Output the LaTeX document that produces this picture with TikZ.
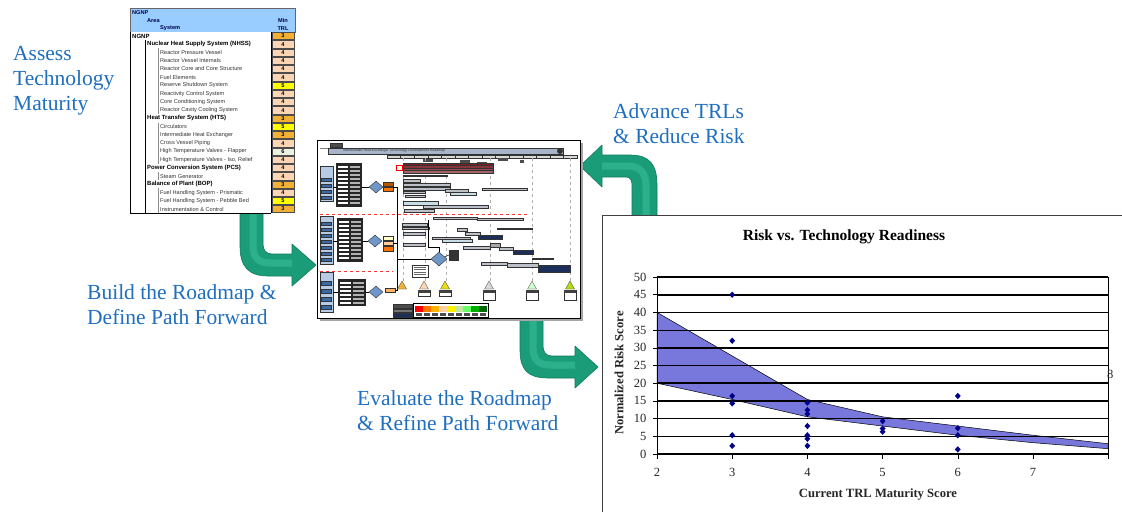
\documentclass[tikz,border=0pt]{standalone}
\usepackage{fontspec}
\setmainfont{Liberation Serif}
\newfontfamily\tabfont{Liberation Sans}
\usetikzlibrary{shapes.geometric}
\definecolor{stepblue}{HTML}{1F6EBF}
\definecolor{arrowgreen}{HTML}{1A9C78}
\definecolor{arrowedge}{HTML}{0F7A5C}
\definecolor{arrowlight}{HTML}{3CC29E}
\definecolor{headblue}{HTML}{99CCFF}
\definecolor{trlthree}{HTML}{F2B134}
\definecolor{trlfour}{HTML}{FCD5B4}
\definecolor{trlfive}{HTML}{FFFF00}
\definecolor{trlsix}{HTML}{EBF1DE}
\definecolor{bandblue}{HTML}{7878DC}
\definecolor{riskblue}{HTML}{00008B}
\definecolor{barred}{HTML}{7A1F24}
\definecolor{bargrey}{HTML}{BCC0C8}
\definecolor{barlight}{HTML}{C8DEE6}
\definecolor{bardark}{HTML}{1B2F5A}
\definecolor{zoneblue}{HTML}{B7CCE4}
\definecolor{boxblue}{HTML}{3A6AA8}
\definecolor{diamondblue}{HTML}{6E96C8}
\definecolor{titlebar}{HTML}{A8B4C8}

\tikzset{
	steptext/.style={text=stepblue,font=\fontsize{21.5}{25}\selectfont,align=left,anchor=north west,inner sep=0pt},
	greenarrow/.style={fill=arrowgreen,draw=arrowedge,line width=0.6pt,line join=round},
	arrowshine/.style={draw=arrowlight,line width=7pt,opacity=0.55,line cap=butt},
	rowtext/.style={font=\tabfont\fontsize{5.6}{6}\selectfont,anchor=west,inner sep=0pt,text=black!80},
	hdtext/.style={font=\tabfont\bfseries\fontsize{5.6}{6}\selectfont,anchor=west,inner sep=0pt,text=black!70!blue},
	trlcell/.style={draw=black!70,line width=0.3pt,minimum width=22pt,minimum height=7.2pt,inner sep=0pt,font=\tabfont\bfseries\fontsize{5.6}{6}\selectfont},
	rmbar/.style={draw=black!80,line width=0.25pt},
	rmdiamond/.style={diamond,draw=black!80,fill=diamondblue,line width=0.4pt,inner sep=0pt,minimum width=14pt,minimum height=12pt},
	riskpt/.style={diamond,fill=riskblue,inner sep=0pt,minimum width=6pt,minimum height=6.5pt},
	ticklabel/.style={font=\fontsize{12.5}{13}\selectfont,text=black!85},
	axislabel/.style={font=\bfseries\fontsize{12.6}{13}\selectfont,text=black!85},
	gridthick/.style={line width=1.6pt},
	gridthin/.style={line width=0.7pt},
}

\begin{document}
\begin{tikzpicture}[x=1pt,y=-1pt]
	\useasboundingbox (0,0) rectangle (1122,512);
	% bent arrows
	\path[greenarrow] (240,212) -- (240,246) .. controls (240,266) and (248,276) .. (268,276) -- (292,276) -- (292,286) -- (316,265) -- (292,244) -- (292,254) -- (272,254) .. controls (266,254) and (263,250) .. (263,244) -- (263,212) -- cycle;
	\draw[arrowshine] (253,213) -- (253,246) .. controls (253,258) and (259,263) .. (270,263) -- (292,263);
	\path[greenarrow] (520,316) -- (520,350) .. controls (520,370) and (528,378) .. (548,378) -- (575,378) -- (575,388) -- (598,367) -- (575,346) -- (575,356) -- (552,356) .. controls (546,356) and (543,352) .. (543,346) -- (543,316) -- cycle;
	\draw[arrowshine] (533,317) -- (533,348) .. controls (533,360) and (539,365) .. (550,365) -- (575,365);
	\path[greenarrow] (657,217) -- (657,185) .. controls (657,165) and (650,155) .. (630,155) -- (602,155) -- (602,145) -- (580,166) -- (602,187) -- (602,177) -- (626,177) .. controls (630,177) and (632,180) .. (632,185) -- (632,217) -- cycle;
	\draw[arrowshine] (646,216) -- (646,186) .. controls (646,173) and (640,166) .. (628,166) -- (602,166);

	% TRL table
	\filldraw[fill=headblue,draw=black!60,line width=0.4pt] (130,8) rectangle (295,32);
	\node[hdtext] (hdngnp) at (132,13) {NGNP};
	\node[hdtext] (hdarea) at (147,20.5) {Area};
	\node[hdtext] (hdsys) at (160,28.5) {System};
	\node[hdtext,anchor=center] (hdmin) at (283,20.5) {Min};
	\node[hdtext,anchor=center] (hdtrl) at (283,28.5) {TRL};
	\fill[white] (130,32) rectangle (295,213);
	\draw[line width=0.6pt] (130,32) -- (130,213) -- (271,213);
	\draw[line width=0.5pt] (271,32) -- (271,213);
	\draw[line width=0.5pt] (145,40) -- (145,213);
	\foreach \rlvl/\rname/\rtrl/\rcol [count=\i from 0] in {
		0/NGNP/3/trlthree,
		1/Nuclear Heat Supply System (NHSS)/4/trlfour,
		2/Reactor Pressure Vessel/4/trlfour,
		2/Reactor Vessel Internals/4/trlfour,
		2/Reactor Core and Core Structure/4/trlfour,
		2/Fuel Elements/4/trlfour,
		2/Reserve Shutdown System/5/trlfive,
		2/Reactivity Control System/4/trlfour,
		2/Core Conditioning System/4/trlfour,
		2/Reactor Cavity Cooling System/4/trlfour,
		1/Heat Transfer System (HTS)/3/trlthree,
		2/Circulators/5/trlfive,
		2/Intermediate Heat Exchanger/3/trlthree,
		2/Cross Vessel Piping/4/trlfour,
		2/High Temperature Valves - Flapper/6/trlsix,
		{2/High Temperature Valves - Iso, Relief/4/trlfour},
		1/Power Conversion System (PCS)/4/trlfour,
		2/Steam Generator/4/trlfour,
		1/Balance of Plant (BOP)/3/trlthree,
		2/Fuel Handling System - Prismatic/4/trlfour,
		2/Fuel Handling System - Pebble Bed/5/trlfive,
		2/Instrumentation \& Control/3/trlthree}{
		\pgfmathsetmacro\ry{36+8.24*\i}
		\pgfmathsetmacro\rx{\rlvl==0 ? 132 : (\rlvl==1 ? 147 : 160)}
		\node[rowtext] (row\i) at (\rx,\ry) {\ifnum\rlvl<2\bfseries\fontsize{6}{6}\selectfont\color{black}\fi\rname};
		\node[trlcell,fill=\rcol] (trl\i) at (283,\ry) {\rtrl};
		\ifnum\rlvl=2
			\draw[black!45,line width=0.5pt] (158,{\ry-4.12}) -- (158,{\ry+4.12});
		\fi
	}

	% roadmap snapshot
	\begin{scope}[shift={(317,140)}]
		\fill[black!35] (3,3) rectangle (266,181);
		\draw[fill=white,line width=0.6pt] (0,0) rectangle (263,178);
		\draw[rmbar,fill=black!70] (13,3) rectangle (25,7);
		\draw[black!50,line width=0.8pt] (3,8) -- (11,8);
		\draw[rmbar,fill=titlebar] (11,8) rectangle (246,14);
		\node[font=\tabfont\fontsize{3.5}{4}\selectfont,anchor=west,inner sep=0pt,text=black!80] (rmtitle) at (26,11) {Intermediate Heat Exchanger Technology Development Roadmap};
		\fill[black!80] (243,11) circle (3);
		\foreach \k in {0,...,13}
			\draw[rmbar,fill=black!15] ({70+13.57*\k},15) rectangle ({83.57+13.57*\k},18);
		\foreach \a/\b/\c in {106/19/116,143/20/153,160/22/170,181/18/191,203/20/207}
			\fill[black!70] (\a,\b) rectangle (\c,{\b+2.5});
		% milestone guides
		\foreach \mx in {86,108,129,173,215,253}
			\draw[black!30,dashed,line width=0.3pt] (\mx,18) -- (\mx,142);
		% bars
		\foreach \b/\shade in {23/100,25.5/90,28/80,30.5/70}
			\draw[rmbar,fill=barred!\shade!white] (86,\b) rectangle (176,{\b+2.5});
		\draw[red,line width=0.4pt] (79,25) rectangle (85,30);
		\foreach \a/\b/\c/\d/\bcol in {
			86/35/130/36.5/bargrey, 86/39/103/42/bargrey, 86/43/133/46.5/bargrey,
			86/47/133/50/bargrey, 86/51/108/53.5/bargrey, 88/55/108/57.5/bargrey,
			128/49/151/52/bargrey, 133/52.5/159/55.5/barlight, 165/48/210/50.5/bargrey,
			86/61/121/65/barlight, 106/65.5/171/68.5/bargrey, 87/69/117/72/bargrey,
			116/77/160/79.5/bargrey, 160/78/206/80.5/bargrey, 85/83/110/86/bargrey,
			85/87/112/89.5/bargrey, 86/92/108/95.5/bargrey, 140/88/150/91.5/bargrey,
			148/92/163/95/bargrey, 161/95/185/99.5/bardark, 180/88/215/89.3/bargrey,
			115/97/153/99.5/bargrey, 125/99.5/155/102/barlight, 86/103/108/106/bargrey,
			146/106/173/109/bargrey, 173/103/183/107/black!35, 182/107/196/110/bargrey,
			196/110/216/114/bardark, 215/118.5/236/119.5/bargrey, 164/122/190/125/bargrey,
			190/123.5/221/127/bargrey, 221/125/253/132/bardark}
			\draw[rmbar,fill=\bcol] (\a,\b) rectangle (\c,\d);
		% zone separators
		\draw[red!80,dashed,line width=0.5pt] (3,74) -- (211,74);
		\draw[red!80,dashed,line width=0.5pt] (3,131) -- (76,131);
		% zone panels
		\draw[rmbar,fill=zoneblue] (3,26) rectangle (16,61);
		\foreach \yy in {40,46,52,58}
			\draw[rmbar,fill=boxblue] (4.5,{\yy-2}) rectangle (14.5,{\yy+1});
		\draw[rmbar,fill=zoneblue] (3,76) rectangle (16,124);
		\foreach \yy in {84,90,96,102,108,114,120}
			\draw[rmbar,fill=boxblue] (4.5,{\yy-2}) rectangle (14.5,{\yy+1.5});
		\draw[rmbar,fill=zoneblue] (3,132) rectangle (16,172);
		\foreach \yy in {143,151,159,167}
			\draw[rmbar,fill=boxblue] (4.5,{\yy-2}) rectangle (14.5,{\yy+2});
		\foreach \a/\b/\c/\d in {19/23/45/67,20/78/46/122,21/139/49/166}{
			\fill[black!85] (\a,\b) rectangle (\c,\d);
			\pgfmathsetmacro\mid{(\a+\c)/2}
			\pgfmathtruncatemacro\ya{\b+3}
			\pgfmathtruncatemacro\yb{\b+7}
			\pgfmathtruncatemacro\yc{\d-4}
			\foreach \yy in {\ya,\yb,...,\yc}{
				\fill[white] ({\a+2},\yy) rectangle ({\mid-1},{\yy+2});
				\fill[black!30] ({\mid+1},\yy) rectangle ({\c-2},{\yy+2});
			}
		}
		\draw[line width=0.4pt] (16,47) -- (19,47) (16,101) -- (20,101) (16,152) -- (21,152);
		% decision diamonds
		\node[rmdiamond] (rmdec1) at (59,47) {};
		\node[rmdiamond] (rmdec2) at (58,101) {};
		\node[rmdiamond] (rmdec3) at (59,152) {};
		\node[rmdiamond,minimum width=16pt,minimum height=14pt] (rmdec4) at (122,119) {};
		\draw[line width=0.4pt] (45,47) -- (rmdec1) (46,101) -- (rmdec2) (49,152) -- (rmdec3);
		\draw[rmbar,fill=orange!70!black] (66,42) rectangle (76,46.5);
		\draw[rmbar,fill=orange!90!red] (66,47) rectangle (76,51.5);
		\draw[rmbar,fill=yellow!20] (66,96) rectangle (76,100);
		\draw[rmbar,fill=orange!40] (66,101) rectangle (76,105);
		\draw[rmbar,fill=orange!90!red] (66,106) rectangle (76,111);
		\draw[rmbar,fill=orange!60] (68,148) rectangle (78,152);
		\draw[line width=0.8pt] (76,47) -- (80,47) -- (80,150) -- (78,150);
		\draw[line width=0.8pt] (76,103) -- (80,103);
		\draw[line width=0.8pt] (80,119) -- (rmdec4);
		\draw[line width=0.5pt] (111,80) -- (111,107) -- (122,107) -- (rmdec4);
		\draw[rmbar,fill=black!80] (132,110) rectangle (141,120);
		\draw[line width=0.4pt] (rmdec4) -- (132,115);
		\draw[rmbar,fill=white] (95,125) rectangle (111,137);
		\foreach \yy in {127,129.5,132,134.5}
			\draw[black!60,line width=0.4pt] (97,\yy) -- (109,\yy);
		% milestones
		\foreach \mx/\mcol in {85/trlthree,107/trlfour,128/yellow!90!black,172/black!15,215/green!20,253/yellow!70!green}
			\draw[rmbar,fill=\mcol] (\mx,141) -- ({\mx+4.5},149) -- ({\mx-4.5},149) -- cycle;
		\foreach \mx/\mh in {107/6,128/6,172/10,215/10,253/10}{
			\draw[rmbar,fill=white] ({\mx-6},150) rectangle ({\mx+6},{150+\mh});
			\fill[black!75] ({\mx-6},150) rectangle ({\mx+6},152.5);
		}
		% legend
		\draw[rmbar,fill=black!70] (76,164) rectangle (95,168);
		\draw[rmbar,fill=black!55] (76,169) rectangle (95,172.5);
		\draw[rmbar,fill=bardark] (76,173) rectangle (95,177);
		\draw[line width=0.5pt,fill=white] (96,163) rectangle (171,177);
		\foreach \lcol [count=\k from 0] in {red,orange!90!red,orange!60!yellow,orange!35,yellow,yellow!40!green!40,green!60,green!70!black,green!40!black}{
			\fill[\lcol] ({98+8*\k},166) rectangle ({106+8*\k},172);
			\fill[black!70] ({99+8*\k},173) rectangle ({105+8*\k},175.5);
		}
	\end{scope}

	% risk chart
	\fill[white] (602,215) rectangle (1122,512);
	\draw[black!75,line width=0.6pt] (602,512) -- (602,215) -- (1122,215);
	\node[font=\bfseries\fontsize{15.5}{16}\selectfont] (charttitle) at (844,237) {Risk vs. Technology Readiness};
	\begin{scope}[shift={(506.6,454)},x=75.2pt,y=3.54pt]
		\filldraw[fill=bandblue,draw=black,line width=0.5pt] (2,40) -- (4,15.4) -- (5,10.5) -- (6,7.9) -- (7,5.3) -- (8,2.9)
			-- (8,1.5) -- (7,3.2) -- (6,5.3) -- (5,7.9) -- (4,10.5) -- (3,15.4) -- (2,20) -- cycle;
		\foreach \v in {10,15,20,25,30,40,45,50}
			\draw[gridthick] (2,\v) -- (8,\v);
		\foreach \v in {5,35}
			\draw[gridthin] (2,\v) -- (8,\v);
		\draw[line width=0.6pt] (8,0) -- (8,50);
		\draw[line width=0.8pt] (2,0) -- (2,50);
		\draw[gridthick] (2,0) -- (8,0);
		\foreach \v in {0,5,...,50}{
			\draw[line width=0.6pt] ([xshift=-4pt]2,\v) -- (2,\v);
			\node[ticklabel,anchor=east] (yl\v) at ([xshift=-7pt]2,\v) {\v};
		}
		\foreach \x in {2,...,8}
			\draw[line width=0.6pt] (\x,0) -- ([yshift=-5pt]\x,0);
		\foreach \x in {2,...,7}
			\node[ticklabel] (xl\x) at ([yshift=-18pt]\x,0) {\x};
		\node[ticklabel] (xl8) at ([xshift=2pt]8,22.6) {8};
		\foreach \px/\py [count=\i] in {3/45,3/32,3/16.4,3/14.3,3/5.3,3/2.3,
			4/14.5,4/12.4,4/11.3,4/7.9,4/5.3,4/4.3,4/2.3,
			5/9.3,5/7.2,5/6.3,6/16.4,6/7.3,6/5.3,6/1.3}
			\node[riskpt] (p\i) at (\px,\py) {};
	\end{scope}
	\node[axislabel,rotate=90] (ylabel) at (619,373) {Normalized Risk Score};
	\node[axislabel] (xlabel) at (878,494) {Current TRL Maturity Score};

	% step captions
	\node[steptext] (assess) at (13,46) {Assess\\Technology\\Maturity};
	\node[steptext] (build) at (87,284) {Build the Roadmap \&\\Define Path Forward};
	\node[steptext] (evaluate) at (357,390) {Evaluate the Roadmap\\\& Refine Path Forward};
	\node[steptext] (advance) at (613,103) {Advance TRLs\\\& Reduce Risk};
\end{tikzpicture}
\end{document}
